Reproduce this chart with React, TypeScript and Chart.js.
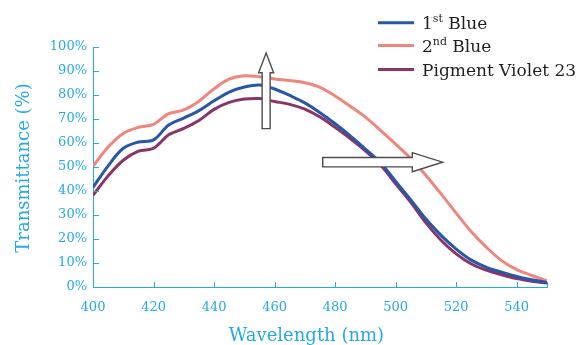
import React, { useEffect, useRef } from "react";
import { Chart, registerables } from "chart.js";

Chart.register(...registerables);

// ---- data ----
const wavelengths = [400, 405, 410, 415, 420, 425, 430, 435, 440, 445, 450, 455, 460, 465, 470, 475, 480, 485, 490, 495, 500, 505, 510, 515, 520, 525, 530, 535, 540, 545, 550];
const firstBlue = [41.5, 50.5, 57.8, 60.4, 61.3, 67.5, 70.4, 73.5, 77.6, 81.2, 83.3, 84.2, 82.5, 79.8, 76.7, 72.6, 68, 63, 57.5, 51.8, 44, 36.3, 28.3, 21.5, 15.8, 11.2, 8.2, 6.2, 4.4, 3, 1.9];
const secondBlue = [50.3, 58.3, 64, 66.5, 67.8, 72.2, 73.8, 77.4, 82.6, 86.6, 88, 87.6, 86.7, 86, 85.1, 83.2, 79.6, 75.3, 70.8, 65.3, 59.5, 53.5, 46.5, 38.8, 30.8, 23, 16.5, 11, 7.2, 4.8, 2.6];
const violet23 = [38.2, 46.3, 52.8, 56.6, 57.8, 63.4, 66.1, 69.4, 74, 76.9, 78.3, 78.5, 77.3, 76.1, 74.1, 70.8, 66.5, 61.8, 56.7, 50.8, 43, 35.3, 26.7, 19.5, 13.8, 9.6, 7, 5.1, 3.5, 2.4, 1.6];

const seriesNames = ["1st Blue", "2nd Blue", "Pigment Violet 23"];
const xTickValues = [400, 420, 440, 460, 480, 500, 520, 540];
const yTickValues = [0, 10, 20, 30, 40, 50, 60, 70, 80, 90, 100];
const xTitle = "Wavelength (nm)";
const yTitle = "Transmittance (%)";

// annotation arrows (data units)
const upArrow = { x: 457.2, base: 66, headBase: 89.3, tip: 97.5 };
const rightArrow = { y: 52, base: 475.9, headBase: 505.5, tip: 515.5 };

const AXIS_COLOR = "#25AAE3";
const FONT = "'DejaVu Serif', serif";
const COLORS = ["#2757A6", "#EF867E", "#8A3468"];

function splitSup(name: string): [string, string, string] {
  const m = name.match(/^(\d+)(st|nd|rd|th)(.*)$/);
  if (m) return [m[1], m[2], m[3]];
  return [name, "", ""];
}

const decorPlugin = {
  id: "decor",
  afterDatasetsDraw(chart: any) {
    const { ctx, scales } = chart;
    const x = scales.x;
    const y = scales.y;
    ctx.save();
    ctx.fillStyle = "#ffffff";
    ctx.strokeStyle = "#4d4d4d";
    ctx.lineWidth = 1.4;
    ctx.lineJoin = "miter";
    // up arrow
    {
      const cx = x.getPixelForValue(upArrow.x);
      const yb = y.getPixelForValue(upArrow.base);
      const yh = y.getPixelForValue(upArrow.headBase);
      const yt = y.getPixelForValue(upArrow.tip);
      const sw = 4;
      const hw = 7.5;
      ctx.beginPath();
      ctx.moveTo(cx - sw, yb);
      ctx.lineTo(cx - sw, yh);
      ctx.lineTo(cx - hw, yh);
      ctx.lineTo(cx, yt);
      ctx.lineTo(cx + hw, yh);
      ctx.lineTo(cx + sw, yh);
      ctx.lineTo(cx + sw, yb);
      ctx.closePath();
      ctx.fill();
      ctx.stroke();
    }
    // right arrow
    {
      const cy = y.getPixelForValue(rightArrow.y);
      const xb = x.getPixelForValue(rightArrow.base);
      const xh = x.getPixelForValue(rightArrow.headBase);
      const xt = x.getPixelForValue(rightArrow.tip);
      const sw = 4.7;
      const hw = 9.5;
      ctx.beginPath();
      ctx.moveTo(xb, cy - sw);
      ctx.lineTo(xh, cy - sw);
      ctx.lineTo(xh, cy - hw);
      ctx.lineTo(xt, cy);
      ctx.lineTo(xh, cy + hw);
      ctx.lineTo(xh, cy + sw);
      ctx.lineTo(xb, cy + sw);
      ctx.closePath();
      ctx.fill();
      ctx.stroke();
    }
    ctx.restore();
  },
  afterDraw(chart: any) {
    const { ctx, scales, chartArea } = chart;
    const x = scales.x;
    const y = scales.y;
    ctx.save();
    // inward tick marks
    ctx.strokeStyle = AXIS_COLOR;
    ctx.lineWidth = 1;
    ctx.beginPath();
    [...xTickValues, x.max].forEach((v) => {
      const px = Math.round(x.getPixelForValue(v)) + 0.5;
      ctx.moveTo(px, chartArea.bottom);
      ctx.lineTo(px, chartArea.bottom - 5);
    });
    yTickValues.forEach((v) => {
      const py = Math.round(y.getPixelForValue(v)) + 0.5;
      ctx.moveTo(chartArea.left, py);
      ctx.lineTo(chartArea.left + 6, py);
    });
    ctx.stroke();

    // axis titles
    ctx.fillStyle = AXIS_COLOR;
    ctx.font = `18px ${FONT}`;
    ctx.textAlign = "center";
    ctx.textBaseline = "alphabetic";
    ctx.fillText(xTitle, 306.5, 341);
    ctx.save();
    ctx.translate(29, (chartArea.top + chartArea.bottom) / 2 + 1);
    ctx.rotate(-Math.PI / 2);
    ctx.fillText(yTitle, 0, 0);
    ctx.restore();

    // legend
    const lx0 = 378;
    const lx1 = 414;
    const tx = 422;
    const rowY = [22.7, 45.5, 69.5];
    seriesNames.forEach((name, i) => {
      const ry = rowY[i];
      ctx.strokeStyle = COLORS[i];
      ctx.lineWidth = 3;
      ctx.beginPath();
      ctx.moveTo(lx0, ry);
      ctx.lineTo(lx1, ry);
      ctx.stroke();
      const [a, sup, rest] = splitSup(name);
      ctx.fillStyle = "#231f20";
      ctx.textBaseline = "alphabetic";
      ctx.textAlign = "left";
      ctx.font = `17px ${FONT}`;
      let cx = tx;
      const base = ry + 6;
      ctx.fillText(a, cx, base);
      cx += ctx.measureText(a).width;
      if (sup) {
        ctx.font = `11px ${FONT}`;
        ctx.fillText(sup, cx, base - 7);
        cx += ctx.measureText(sup).width;
        ctx.font = `17px ${FONT}`;
        ctx.fillText(rest, cx, base);
      }
    });
    ctx.restore();
  },
};

export default function App() {
  const ref = useRef<HTMLCanvasElement | null>(null);
  useEffect(() => {
    if (!ref.current) return;
    const mk = (data: number[]) => wavelengths.map((w, i) => ({ x: w, y: data[i] }));
    const chart = new Chart(ref.current, {
      type: "line",
      data: {
        datasets: [
          { label: seriesNames[0], data: mk(firstBlue), borderColor: COLORS[0] },
          { label: seriesNames[1], data: mk(secondBlue), borderColor: COLORS[1] },
          { label: seriesNames[2], data: mk(violet23), borderColor: COLORS[2] },
        ].map((d) => ({
          ...d,
          borderWidth: 3,
          pointRadius: 0,
          fill: false,
          tension: 0.35,
        })),
      },
      options: {
        responsive: false,
        animation: false,
        devicePixelRatio: 1,
        layout: { padding: { top: 47, right: 33, left: 0, bottom: 0 } },
        plugins: { legend: { display: false }, tooltip: { enabled: false } },
        scales: {
          x: {
            type: "linear",
            min: 400,
            max: 550,
            afterBuildTicks: (s: any) => {
              s.ticks = xTickValues.map((v) => ({ value: v }));
            },
            afterFit: (s: any) => {
              s.height = 58;
            },
            grid: { display: false, drawTicks: false },
            border: { display: true, color: AXIS_COLOR, width: 1 },
            ticks: {
              autoSkip: false,
              maxRotation: 0,
              color: AXIS_COLOR,
              padding: 13,
              font: { family: FONT, size: 13 },
            },
            title: { display: false },
          },
          y: {
            min: 0,
            max: 100,
            afterBuildTicks: (s: any) => {
              s.ticks = yTickValues.map((v) => ({ value: v }));
            },
            afterFit: (s: any) => {
              s.width = 93;
            },
            grid: { display: false, drawTicks: false },
            border: { display: true, color: AXIS_COLOR, width: 1 },
            ticks: {
              color: AXIS_COLOR,
              padding: 6,
              font: { family: FONT, size: 13 },
              callback: (v: any) => `${v}%`,
            },
            title: { display: false },
          },
        },
      },
      plugins: [decorPlugin],
    });
    return () => chart.destroy();
  }, []);
  return (
    <div style={{ position: "absolute", left: 0, top: 0, width: 580, height: 345, background: "#fff" }}>
      <canvas ref={ref} width={580} height={345} />
    </div>
  );
}
